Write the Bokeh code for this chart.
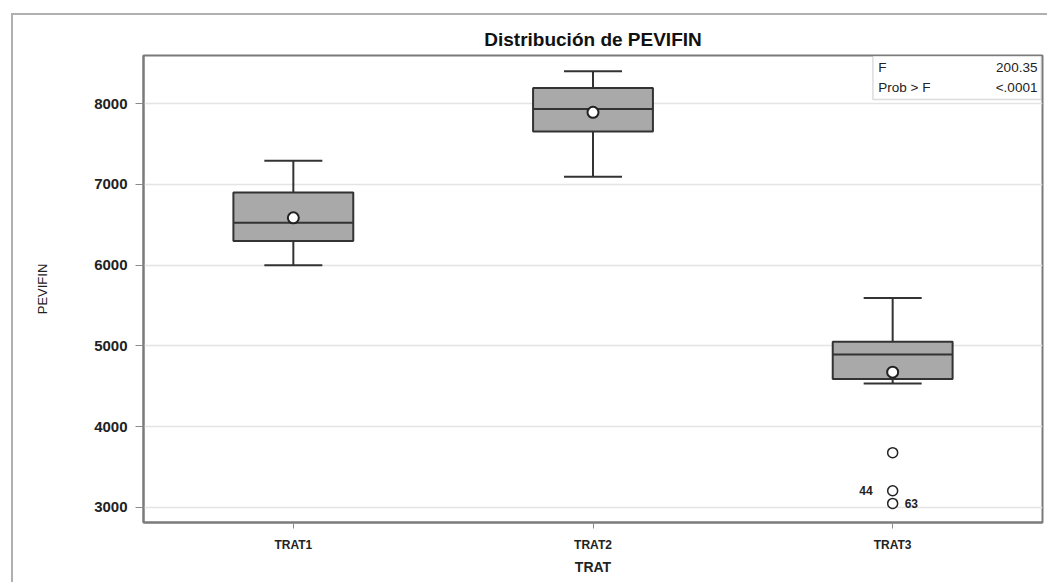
from bokeh.plotting import figure
from bokeh.models import FactorRange, Range1d, BoxAnnotation, Label, ColumnDataSource
from bokeh.embed import file_html
from bokeh.resources import INLINE
from bokeh.core.properties import value

# ---- data ----
cats = ["TRAT1", "TRAT2", "TRAT3"]
q1 = [6300, 7656, 4592]
median = [6524, 7934, 4894]
q3 = [6900, 8195, 5051]
lower = [6000, 7094, 4535]
upper = [7293, 8400, 5593]
mean = [6586, 7892, 4675]
out_cat = ["TRAT3", "TRAT3", "TRAT3"]
out_val = [3679, 3207, 3050]
out_lab_left = ["", "44", ""]
out_lab_right = ["", "", "63"]
stat_names = ["F", "Prob > F"]
stat_values = ["200.35", "<.0001"]
y_ticks = [3000, 4000, 5000, 6000, 7000, 8000]

FONT = "Liberation Sans"

p = figure(x_range=FactorRange(factors=cats), y_range=Range1d(2814, 8596),
           width=1036, height=569, output_backend="svg", toolbar_location=None,
           min_border_left=130, min_border_right=7, min_border_top=40, min_border_bottom=62,
           title="Distribución de PEVIFIN",
           styles={"margin-left": "13px", "margin-top": "15px",
                   "box-shadow": "-2px -2px 0px 0px #b0b0b0"})

p.title.align = "center"
p.title.text_font = FONT
p.title.text_font_size = "19px"
p.title.text_font_style = "bold"
p.title.text_color = "#111111"
p.title.standoff = 11

p.outline_line_color = "#7a7a7a"
p.outline_line_width = 2
p.background_fill_color = "white"
p.border_fill_color = "white"

p.xgrid.grid_line_color = None
p.ygrid.grid_line_color = "#e4e4e4"
p.ygrid.grid_line_width = 1.5
p.yaxis.ticker = y_ticks

for ax in (p.xaxis, p.yaxis):
    ax.axis_line_color = "#7a7a7a"
    ax.axis_line_width = 2
    ax.major_tick_line_color = "#8a8a8a"
    ax.major_tick_in = 0
    ax.minor_tick_line_color = None
    ax.major_label_text_font = FONT
    ax.major_label_text_font_style = "bold"
    ax.major_label_text_color = "#222222"
    ax.axis_label_text_font = FONT
    ax.axis_label_text_font_style = "normal"
    ax.axis_label_text_color = "#222222"

p.xaxis.major_tick_out = 6
p.yaxis.major_tick_out = 8
p.xaxis.major_label_text_font_size = "12px"
p.yaxis.major_label_text_font_size = "15px"
p.xaxis.axis_label = "TRAT"
p.xaxis.axis_label_text_font_size = "14px"
p.xaxis.axis_label_text_font_style = "bold"
p.xaxis.axis_label_standoff = 4
p.xaxis.major_label_standoff = 9
p.yaxis.axis_label = "PEVIFIN"
p.yaxis.axis_label_text_font_size = "13px"
p.yaxis.axis_label_standoff = 41
p.yaxis.major_label_standoff = 8

src = ColumnDataSource(dict(cats=cats, q1=q1, q3=q3, median=median,
                            lower=lower, upper=upper, mean=mean))

# whiskers
p.segment(x0="cats", y0="q3", x1="cats", y1="upper", source=src, line_color="#333333", line_width=2)
p.segment(x0="cats", y0="lower", x1="cats", y1="q1", source=src, line_color="#333333", line_width=2)
p.scatter(x="cats", y="upper", source=src, marker="dash", size=58, line_color="#333333", line_width=2)
p.scatter(x="cats", y="lower", source=src, marker="dash", size=58, line_color="#333333", line_width=2)

# boxes
p.vbar(x="cats", bottom="q1", top="q3", width=0.4, source=src,
       fill_color="#a9a9a9", line_color="#333333", line_width=2)
p.scatter(x="cats", y="median", source=src, marker="dash", size=120, line_color="#333333", line_width=2)
p.scatter(x="cats", y="mean", source=src, marker="circle", size=11,
          fill_color="white", line_color="#222222", line_width=2)

# outliers
osrc = ColumnDataSource(dict(x=out_cat, y=out_val, l=out_lab_left, r=out_lab_right))
p.scatter(x="x", y="y", source=osrc, marker="circle", size=10,
          fill_color="white", line_color="#222222", line_width=1.5)
p.text(x="x", y="y", text="l", source=osrc, x_offset=-20, text_align="right", text_baseline="middle",
       text_font=value(FONT), text_font_size="12px", text_font_style="bold", text_color="#222222")
p.text(x="x", y="y", text="r", source=osrc, x_offset=12, text_align="left", text_baseline="middle",
       text_font=value(FONT), text_font_size="12px", text_font_style="bold", text_color="#222222")

# inset statistics box
p.add_layout(BoxAnnotation(left=2.434, right=2.996, top=8590, bottom=8050,
                           fill_color="white", fill_alpha=1, line_color="#8a8a8a", line_width=1.5))
for i, (nm, vv) in enumerate(zip(stat_names, stat_values)):
    yy = 8447 - i * 248
    p.add_layout(Label(x=2.452, y=yy, text=nm, text_baseline="middle", text_align="left",
                       text_font=FONT, text_font_size="13.5px", text_color="#222222"))
    p.add_layout(Label(x=2.983, y=yy, text=vv, text_baseline="middle", text_align="right",
                       text_font=FONT, text_font_size="13.5px", text_color="#222222"))

open("out.html", "w").write(file_html(p, INLINE))
